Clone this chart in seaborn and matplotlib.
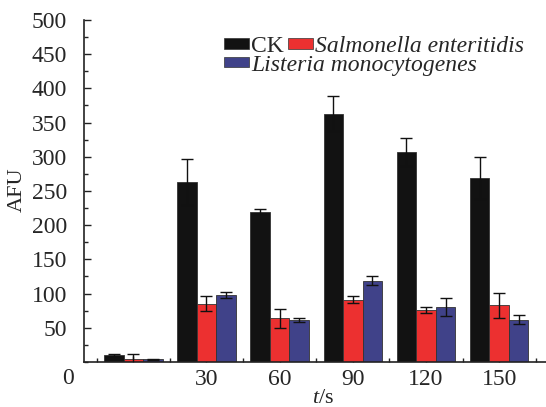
import numpy as np
import pandas as pd
import seaborn as sns
import matplotlib.pyplot as plt
from matplotlib.ticker import MultipleLocator, FixedLocator
from matplotlib.patches import Patch

# values
times = ['0', '30', '60', '90', '120', '150']
groups = ['CK', 'Salmonella enteritidis', 'Listeria monocytogenes']
ck = [10, 263, 220, 363, 307, 269]
ck_err = [1, 34, 4, 26, 20, 30]
salmonella = [4, 85, 64, 91, 76, 83]
salmonella_err = [8, 11, 14, 5, 4, 18]
listeria = [4, 98, 61, 119, 80, 62]
listeria_err = [1, 5, 3, 7, 13, 7]
colors = ['#121212', '#ec3030', '#404289']

sns.set_style('ticks')
plt.rcParams['font.family'] = ['Liberation Serif', 'DejaVu Serif']
plt.rcParams['mathtext.fontset'] = 'custom'
plt.rcParams['mathtext.it'] = 'Liberation Serif:italic'
plt.rcParams['mathtext.rm'] = 'Liberation Serif'

df = pd.DataFrame({
    't': times * 3,
    'group': [g for g in groups for _ in times],
    'AFU': ck + salmonella + listeria,
})
errs = [ck_err, salmonella_err, listeria_err]

fig = plt.figure(figsize=(5.46, 4.07), dpi=100)
ax = fig.add_axes([0.153, 0.1106, 0.847, 0.8403])

sns.barplot(data=df, x='t', y='AFU', hue='group', order=times, hue_order=groups,
            palette=colors, saturation=1, width=0.8, errorbar=None,
            edgecolor='#333333', linewidth=0.6, legend=False, ax=ax)

# error bars on top of the seaborn bars
for cont, err in zip(ax.containers, errs):
    xs = [b.get_x() + b.get_width() / 2 for b in cont]
    ys = [b.get_height() for b in cont]
    ax.errorbar(xs, ys, yerr=err, fmt='none', ecolor='#111111',
                elinewidth=1.0, capsize=4, capthick=1.0, zorder=5)

ax.set_xlim(-0.68, 5.64)
ax.set_ylim(0, 500)
sns.despine(ax=ax)
for s in ['left', 'bottom']:
    ax.spines[s].set_linewidth(1.2)
    ax.spines[s].set_color('#222222')

ax.yaxis.set_major_locator(FixedLocator(np.arange(50, 501, 50)))
ax.yaxis.set_minor_locator(MultipleLocator(25))
ax.xaxis.set_major_locator(FixedLocator(range(len(times))))
ax.xaxis.set_minor_locator(FixedLocator(np.arange(-0.5, 5.6, 1.0)))
ax.set_xticklabels([''] + times[1:])
ax.tick_params(axis='y', which='major', direction='in', length=5, width=1.0,
               labelsize=17, pad=12, color='#222222')
ax.tick_params(axis='y', which='minor', direction='in', length=3, width=1.0,
               color='#222222')
ax.tick_params(axis='x', which='major', direction='in', length=4.5, width=1.0,
               labelsize=17, pad=5, color='#222222')
ax.tick_params(axis='x', which='minor', direction='in', length=3, width=1.0,
               color='#222222')

ax.set_xlabel('')
ax.set_ylabel('')
fig.text(17 / 546, 1 - 190 / 407, 'AFU', rotation=90, ha='center', va='center',
         fontsize=16)
fig.text(323 / 546, 1 - 389 / 407, '$t$/s', ha='center', va='top', fontsize=16)
fig.text(68 / 546, 1 - 378 / 407, '0', ha='center', va='center', fontsize=17)

# legend: CK + Salmonella on first row, Listeria on second
h = [Patch(facecolor=c, edgecolor='#333333', linewidth=0.5) for c in colors]
leg_kw = dict(frameon=False, fontsize=17, handlelength=1.05, handleheight=0.3,
              handletextpad=0.1, columnspacing=0.18, borderpad=0,
              borderaxespad=0, loc='upper left')
leg1 = ax.legend(h[:2], groups[:2], ncol=2,
                 bbox_to_anchor=(224 / 546, 1 - 36 / 407),
                 bbox_transform=fig.transFigure, **leg_kw)
leg1.get_texts()[1].set_style('italic')
ax.add_artist(leg1)
leg2 = ax.legend(h[2:], groups[2:], bbox_to_anchor=(224 / 546, 1 - 54.5 / 407),
                 bbox_transform=fig.transFigure, **leg_kw)
leg2.get_texts()[0].set_style('italic')

fig.savefig('out.png', dpi=100)
